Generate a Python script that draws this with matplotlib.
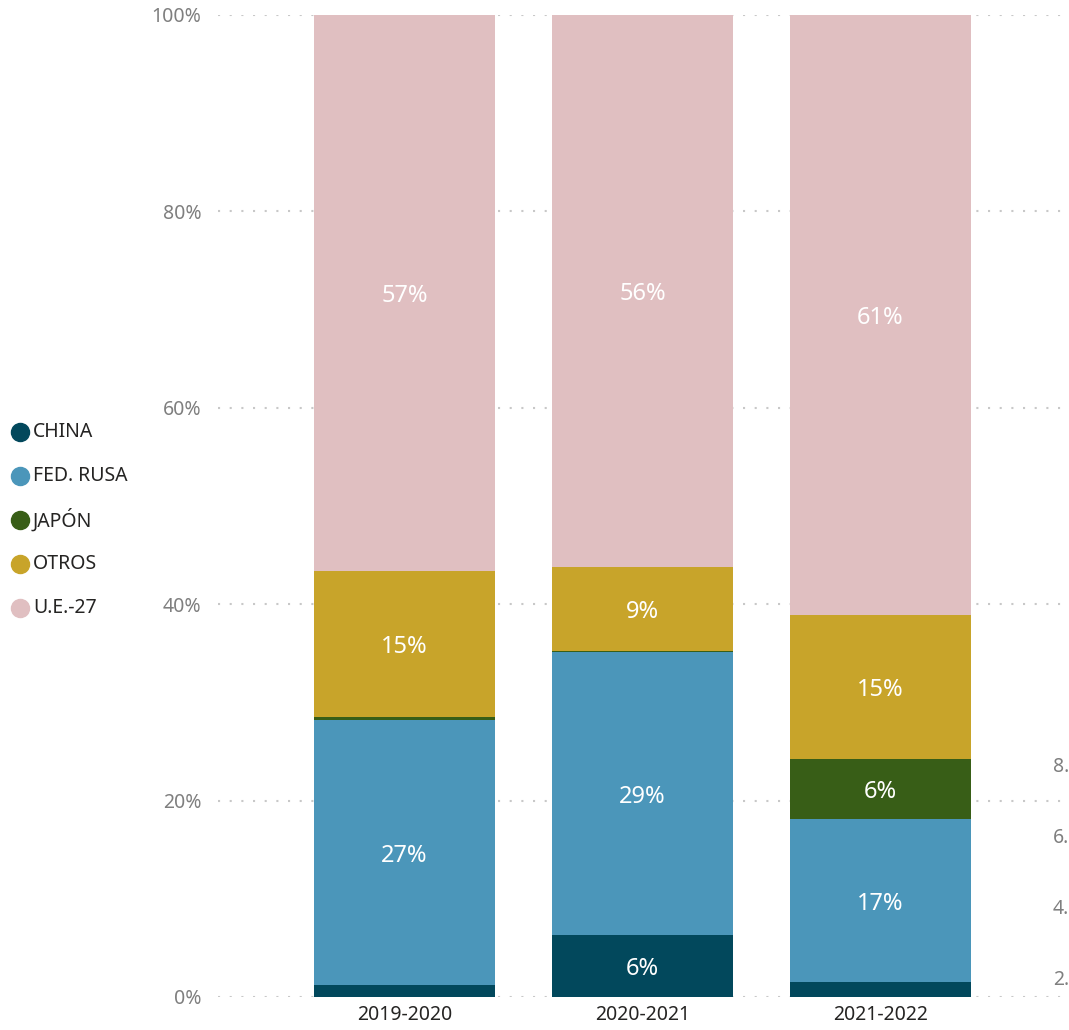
import numpy as np
import matplotlib.pyplot as plt
from matplotlib.lines import Line2D
from matplotlib.transforms import blended_transform_factory

plt.rcParams['font.family'] = ['Noto Sans', 'DejaVu Sans']

# campaign periods and share of each origin (percent of total)
periods = ["2019-2020", "2020-2021", "2021-2022"]
series = ["CHINA", "FED. RUSA", "JAPÓN", "OTROS", "U.E.-27"]
china = [1.2, 6.3, 1.5]
fed_rusa = [27.0, 28.8, 16.6]
japon = [0.3, 0.1, 6.1]
otros = [14.9, 8.6, 14.7]
ue27 = [56.6, 56.2, 61.1]
colors = ["#02485C", "#4B96BA", "#385E17", "#C8A42A", "#E0BFC1"]

# partly hidden secondary axis labels on the right edge
sec_ticks = [2, 4, 6, 8]
sec_labels = ["2.", "4.", "6.", "8."]

values = np.array([china, fed_rusa, japon, otros, ue27])
shares = values / values.sum(axis=0) * 100

fig = plt.figure(figsize=(10.69, 10.30), dpi=100)
ax = fig.add_axes([218 / 1069, 33 / 1030, 851 / 1069, 982 / 1030])

x = np.arange(len(periods))
bottom = np.zeros(len(periods))
for name, vals, col in zip(series, shares, colors):
    ax.bar(x, vals, width=0.76, bottom=bottom, color=col, zorder=2, label=name)
    for xi, b, v in zip(x, bottom, vals):
        if v >= 3:
            ax.text(xi, b + v / 2, "{:.0f}%".format(v), ha="center",
                    va="center_baseline", color="white", fontsize=17, zorder=3)
    bottom += vals

ax.set_xlim(-0.784, 2.792)
ax.set_ylim(0, 100)
ax.set_yticks([0, 20, 40, 60, 80, 100])
ax.set_yticklabels(["0%", "20%", "40%", "60%", "80%", "100%"])
ax.set_xticks(x)
ax.set_xticklabels(periods)
ax.tick_params(axis="y", length=0, pad=12, labelsize=14, labelcolor="#7f7f7f")
ax.tick_params(axis="x", length=0, pad=6, labelsize=14, labelcolor="#252423")
ax.grid(axis="y", color="#c8c8c8", linestyle=(0, (1, 4.6)), linewidth=1.5, zorder=0)
ax.grid(axis="x", visible=False)
for s in ax.spines.values():
    s.set_visible(False)

# secondary scale, only its first characters show at the figure edge
ax2 = ax.twinx()
ax2.set_ylim(1.529, 29.18)
ax2.set_yticks([])
for s in ax2.spines.values():
    s.set_visible(False)
tr = blended_transform_factory(fig.transFigure, ax2.transData)
for t, lab in zip(sec_ticks, sec_labels):
    ax2.text(1053 / 1069, t, lab, transform=tr, ha="left", va="center",
             fontsize=14, color="#7f7f7f")

# legend on the left
for i, (name, col) in enumerate(zip(series, colors)):
    yf = 1 - (432 + i * 44) / 1030
    fig.add_artist(Line2D([20 / 1069], [yf], marker="o", markersize=13,
                          color=col, linestyle="none", transform=fig.transFigure))
    fig.text(33 / 1069, yf, name, ha="left", va="center", fontsize=14,
             color="#252423")

fig.savefig("out.png", dpi=100)
